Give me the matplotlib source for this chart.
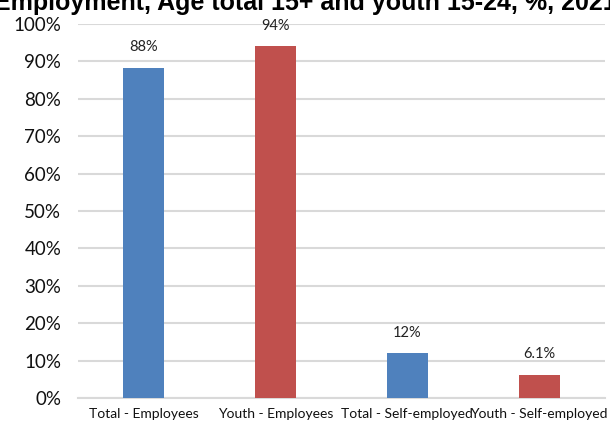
import matplotlib.pyplot as plt
import numpy as np

categories = ["Total - Employees", "Youth - Employees",
              "Total - Self-employed", "Youth - Self-employed"]
values = [88.2, 94.0, 11.9, 6.1]
labels = ["88%", "94%", "12%", "6.1%"]
colors = ["#4f81bd", "#c0504d", "#4f81bd", "#c0504d"]
yticks = np.arange(0, 101, 10)

plt.rcParams['font.family'] = ['Lato', 'DejaVu Sans']

fig = plt.figure(figsize=(6.1, 4.22), dpi=100)
ax = fig.add_axes([78 / 610, 24 / 422, 527 / 610, 374 / 422])

x = np.arange(len(categories))
bars = ax.bar(x, values, width=0.31, color=colors, zorder=3)

for b, lab in zip(bars, labels):
    ax.annotate(lab, (b.get_x() + b.get_width() / 2, b.get_height()),
                xytext=(0, 10), textcoords='offset points',
                ha='center', va='bottom', fontsize=10.5, color='#222222',
                zorder=4)

ax.set_xlim(-0.5, len(categories) - 0.5)
ax.set_ylim(0, 100)
ax.set_yticks(yticks)
ax.set_yticklabels([f"{v}%" for v in yticks], fontsize=13.5)
ax.set_xticks(x)
ax.set_xticklabels(categories, fontsize=10)
ax.tick_params(axis='both', length=0, colors='#111111')
ax.tick_params(axis='y', pad=12)
ax.tick_params(axis='x', pad=7)
ax.grid(axis='y', color='#d9d9d9', linewidth=1.5, zorder=0)
for s in ['top', 'right', 'left']:
    ax.spines[s].set_visible(False)
ax.spines['bottom'].set_color('#d9d9d9')
ax.spines['bottom'].set_linewidth(1.5)

# title sits partly above the top edge of the canvas
fig.text(0.5, 1 - 10 / 422, "Employment, Age total 15+ and youth 15-24, %, 2021",
         ha='center', va='baseline', fontsize=18, fontweight='bold',
         family=['Liberation Sans', 'DejaVu Sans'])

fig.savefig('out.png', dpi=100)
